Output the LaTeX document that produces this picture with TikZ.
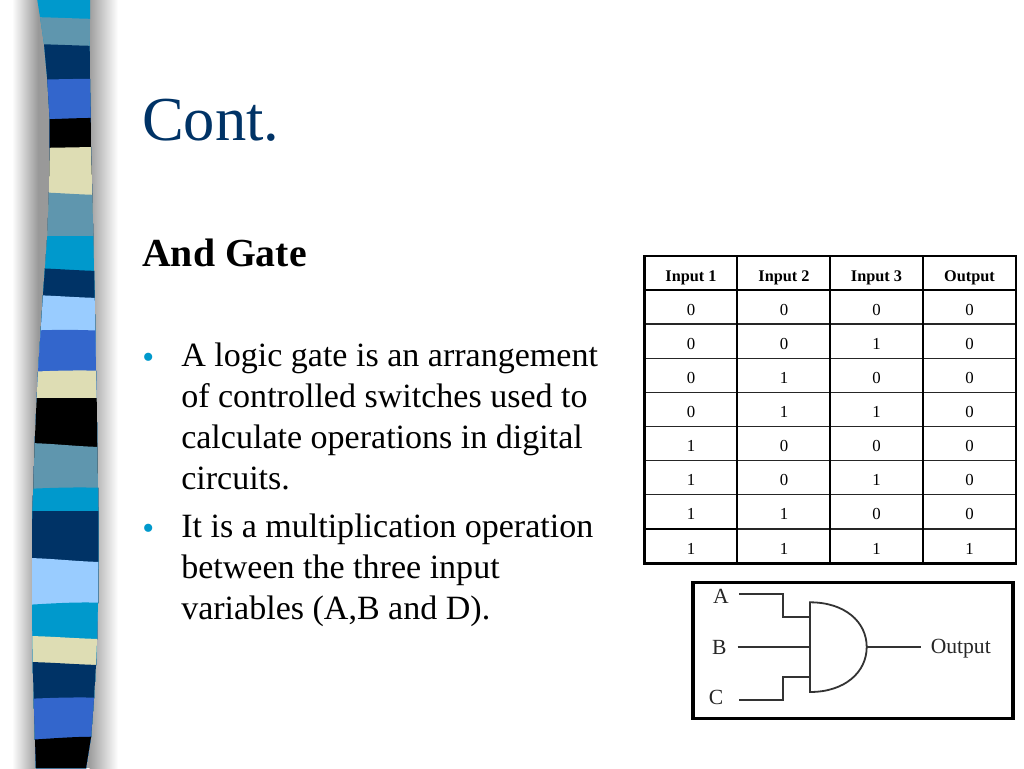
\documentclass[tikz,border=0pt]{standalone}
\usepackage{fontspec}
\setmainfont{Liberation Serif}
\definecolor{cCyan}{HTML}{0099CC}
\definecolor{cTeal}{HTML}{5F96AE}
\definecolor{cNavy}{HTML}{003366}
\definecolor{cBlue}{HTML}{3366CC}
\definecolor{cCream}{HTML}{DEDDB4}
\definecolor{cLight}{HTML}{99CCFF}
\definecolor{cBlack}{HTML}{000000}
\tikzset{
  title/.style={anchor=base west,inner sep=0,text=cNavy,font=\fontsize{46.9}{50}\selectfont},
  subhead/.style={anchor=base west,inner sep=0,font=\fontsize{29.8}{34}\selectfont\bfseries},
  para/.style={anchor=north west,inner sep=0,align=left,font=\fontsize{25.52}{30.75}\selectfont},
  bul/.style={anchor=base west,inner sep=0,text=cCyan,font=\fontsize{25.4}{30}\selectfont},
  hcell/.style={inner sep=0,font=\fontsize{12.2}{14}\selectfont\bfseries},
  cell/.style={inner sep=0,font=\fontsize{12.6}{14}\selectfont},
  glabel/.style={inner sep=0,text=black!85,font=\fontsize{16.2}{18}\selectfont},
  wire/.style={line width=1.35pt,black!80},
}
\begin{document}
\begin{tikzpicture}[x=.75pt,y=-.75pt]
\useasboundingbox (0,0) rectangle (1024,768);
\fill[white] (0,0) rectangle (1024,768);
% shadow of the strip
\shade[left color=white,right color=black!40,draw=none] (12,0) rectangle (38,768);
\fill[black!40] (37.5,0) rectangle (70,768);
\fill[black!38] (70,0) rectangle (90,768);
\shade[left color=black!38,right color=white,draw=none] (89.5,0) rectangle (118,768);
% strip
\begin{scope}
\clip (37.3,0) -- (40,17) -- (44,44) -- (47.3,80) -- (49.7,120) -- (49.7,148) -- (49,192)
  -- (47.3,236) -- (45,268) -- (43,295) -- (40.7,331) -- (38,372) -- (36.7,398) -- (34.7,443)
  -- (33.3,489) -- (32.3,511) -- (32,558) -- (32,605) -- (32.3,636) -- (32.7,662) -- (33.7,699)
  -- (35,740) -- (36,768) -- (86,768) -- (91,737) -- (94,698) -- (96,665) -- (97,639) -- (98,603)
  -- (98.3,562) -- (98.3,511) -- (98,488) -- (97.3,447) -- (96.7,398) -- (96,371) -- (95.3,331)
  -- (94.7,298) -- (94,271) -- (93.3,236) -- (92.3,195) -- (91,147) -- (90.7,118) -- (90,79)
  -- (89.7,46) -- (90,19) -- (90,0) -- cycle;
\foreach \c/\yl/\yr/\b in {
  cCyan/-5/-5/0, cTeal/17/19/0, cNavy/44/46/0, cBlue/80/79/-.5, cBlack/120/118/-.5,
  cCream/148/147/0, cTeal/192/195/0, cCyan/236/236/0, cNavy/268/271/0, cLight/295/298/0,
  cBlue/331/331/-1.5, cCream/372/371/-1.2, cBlack/398/398/0, cTeal/443/447/0,
  cCyan/489/488/-1.2, cNavy/511/511/0, cLight/558/562/0, cCyan/605/603/-1.5,
  cCream/636/639/0, cNavy/662/665/0, cBlue/699/698/-1.2, cBlack/740/737/-1.2}{
  \fill[\c] (25,\yl) .. controls (50,\yl+\b) and (80,\yr+\b) .. (105,\yr) -- (105,770) -- (25,770) -- cycle;
}
\end{scope}
% text
\node[title] (ttl) at (142,140) {Cont.};
\node[subhead] (sub) at (142,266) {And Gate};
\node[bul] (b1) at (142,368) {•};
\node[para] (p1) at (181,343) {A logic gate is an arrangement\\of controlled switches used to\\calculate operations in digital\\circuits.};
\node[bul] (b2) at (142,539) {•};
\node[para] (p2) at (181,514) {It is a multiplication operation\\between the three input\\variables (A,B and D).};
% table grid
\foreach \y in {324,358.3,392.3,426.3,460.3,494.7,529}{
  \draw[line width=.95pt,black!85] (644.7,\y) -- (1016,\y);
}
\draw[line width=1.5pt] (644.7,528.6) -- (737.3,528.6);
\draw[line width=1.5pt] (644.7,289.7) -- (1016,289.7);
\foreach \x in {737.3,830.3,922.7}{
  \draw[line width=1.6pt] (\x,256) -- (\x,563.3);
}
\draw[line width=1.9pt] (644.7,256) rectangle (1016,563.3);
% table text
\foreach \x/\t [count=\i] in {691/Input 1,784/Input 2,876.5/Input 3,969.5/Output}{
  \node[hcell] (h\i) at (\x,278) {\t};
}
\foreach \r/\a/\b/\c/\d/\y in {1/0/0/0/0/310,2/0/0/1/0/344,3/0/1/0/0/378,4/0/1/1/0/412,
  5/1/0/0/0/446,6/1/0/1/0/480,7/1/1/0/0/514,8/1/1/1/1/548.5}{
  \node[cell] (c\r a) at (691,\y) {\a};
  \node[cell] (c\r b) at (784,\y) {\b};
  \node[cell] (c\r c) at (876.5,\y) {\c};
  \node[cell] (c\r d) at (969.5,\y) {\d};
}
% gate picture
\draw[line width=2.5pt,fill=white] (693,582.3) rectangle (1013,718.3);
\node[glabel] (la) at (721,596) {A};
\node[glabel] (lb) at (719.3,647) {B};
\node[glabel] (lc) at (716,697.7) {C};
\node[glabel,anchor=west] (lo) at (930.5,649) {Output};
\coordinate (ga) at (739.3,594);
\coordinate (gc) at (739.3,700);
\coordinate (bnd) at (782.7,594);
\coordinate (cnd) at (782.7,700);
\coordinate (gbx) at (737.7,647);
\coordinate (oe) at (920.7,647);
\coordinate (gt) at (810,602.3);
\coordinate (gb) at (810,692);
\coordinate (gr) at (866.7,647);
\coordinate (ia) at (810,617.3);
\coordinate (ib) at (810,647);
\coordinate (ic) at (810,676.7);
\draw[wire] (gt) .. controls (845,602.3) and (866.7,622) .. (gr) .. controls (866.7,672) and (845,692) .. (gb) -- cycle;
\draw[wire] (ga) -- (bnd) |- (ia);
\draw[wire] (gbx) -- (ib);
\draw[wire] (gc) -- (cnd) |- (ic);
\draw[wire] (gr) -- (oe);
\end{tikzpicture}
\end{document}
